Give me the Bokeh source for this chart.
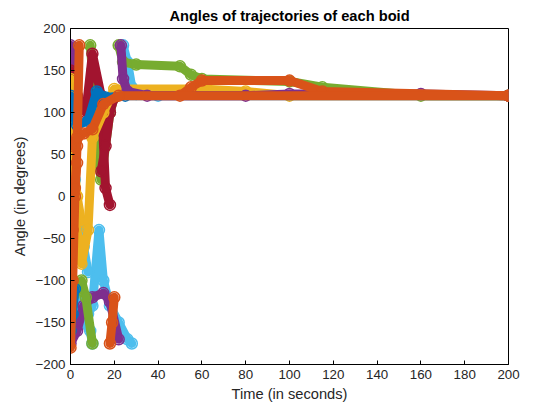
from bokeh.plotting import figure
from bokeh.embed import file_html
from bokeh.resources import INLINE

# MATLAB default color order
colors = ["#0072BD", "#D95319", "#EDB120", "#7E2F8E", "#77AC30", "#4DBEEE", "#A2142F"]

# (color index, times, angles)
trajectories = [
    (5, [8, 10, 13, 15, 18, 22, 26, 28], [-140, -130, -40, -100, -130, -150, -170, -175]),
    (5, [3, 6, 9, 10], [-120, -150, -160, -175]),
    (5, [1, 2, 4, 6, 8], [70, 20, -30, -60, -90]),
    (5, [24, 26, 28, 30, 40], [180, 160, 130, 122, 120]),
    (3, [0, 3, 6, 10, 15, 18, 22], [-175, -160, -130, -120, -115, -125, -170]),
    (3, [0, 1, 2], [180, 165, 150]),
    (4, [0, 5, 7, 10], [-130, -100, -120, -175]),
    (4, [9, 10, 12, 14, 18, 20], [180, 150, 60, 20, 100, 118]),
    (4, [22, 24, 30, 50, 55, 60, 100, 115, 160, 200], [180, 160, 157, 155, 145, 140, 137, 130, 120, 120]),
    (6, [0, 3, 7, 10, 14, 16, 18], [150, 120, 100, 170, 120, 10, -10]),
    (6, [14, 16, 18, 20], [30, 60, 100, 118]),
    (2, [0, 1, 3, 5], [140, 60, 0, -30]),
    (2, [2, 5, 8, 10, 15, 20, 60, 80, 100, 200], [-20, -80, -40, 70, 100, 128, 128, 125, 120, 120]),
    (0, [0, 1, 3, 8, 12, 16, 25, 200], [120, 100, 85, 90, 125, 118, 120, 120]),
    (0, [0, 1, 2], [-160, -140, -110]),
    (3, [23, 24, 26, 35, 80, 100, 160, 200], [180, 140, 125, 120, 120, 122, 122, 120]),
    (1, [0, 1, 2, 3, 4], [-180, -100, 0, 60, 180]),
    (1, [0, 1, 2, 3], [-80, -40, 10, 40]),
    (1, [18, 19, 20], [-175, -150, -120]),
    (1, [50, 55, 60, 100, 115, 200], [120, 130, 138, 138, 125, 120]),
    (1, [0, 3, 6, 10, 15, 22, 200], [60, 70, 75, 80, 110, 120, 120]),
]

p = figure(width=544, height=404, x_range=(0, 200), y_range=(-200, 200),
           title="Angles of trajectories of each boid",
           x_axis_label="Time (in seconds)", y_axis_label="Angle (in degrees)",
           output_backend="svg", toolbar_location=None)

for ci, t, a in trajectories:
    c = colors[ci]
    p.line(t, a, line_color=c, line_width=9, line_cap="round", line_join="round")
    p.scatter(t, a, marker="circle", size=11, fill_color=None, line_color=c, line_width=1.5)

p.title.align = "center"
p.title.text_font = "Liberation Sans"
p.title.text_font_size = "11pt"
p.title.text_font_style = "bold"
p.title.text_color = "black"
p.xaxis.ticker = list(range(0, 201, 20))
p.yaxis.ticker = list(range(-200, 201, 50))
p.grid.visible = False
for ax in (p.xaxis[0], p.yaxis[0]):
    ax.major_tick_in = 4
    ax.major_tick_out = 0
    ax.minor_tick_line_color = None
    ax.major_label_text_font = "Liberation Sans"
    ax.major_label_text_font_size = "10pt"
    ax.major_label_text_color = "#262626"
    ax.axis_label_text_font = "Liberation Sans"
    ax.axis_label_text_font_size = "11pt"
    ax.axis_label_text_font_style = "normal"
    ax.axis_label_text_color = "#262626"
    ax.axis_label_standoff = 4
p.outline_line_color = "black"
p.min_border_left = 70
p.min_border_right = 36
p.min_border_bottom = 10

open("out.html", "w").write(file_html(p, INLINE))
